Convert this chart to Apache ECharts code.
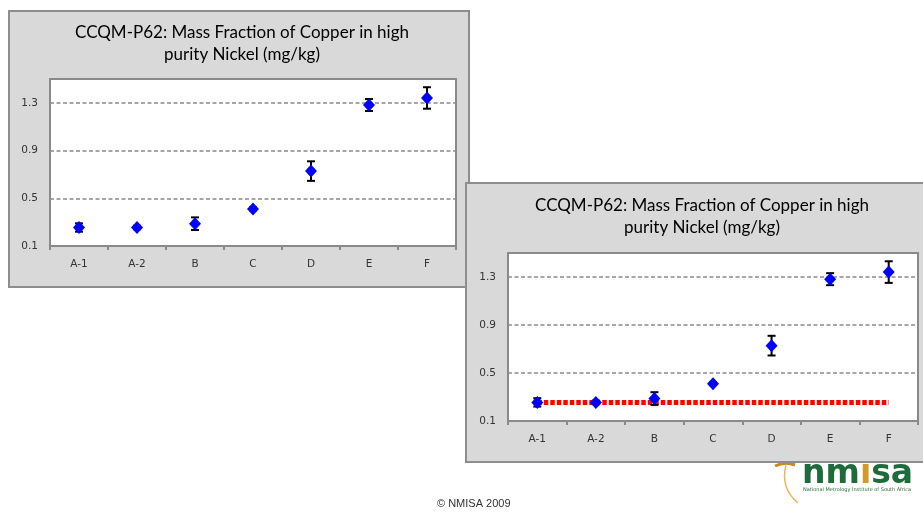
<!DOCTYPE html>
<html><head><meta charset="utf-8">
<script src="https://cdn.jsdelivr.net/npm/echarts/dist/echarts.min.js"></script>
<style>
html,body{margin:0;padding:0;width:923px;height:519px;overflow:hidden;background:#fff}
body{position:relative}
.abs{position:absolute}
.panel{position:absolute;box-sizing:border-box;background:#d9d9d9;border:2px solid #8e8e8e}
#bg{left:0;top:0;width:923px;height:519px}
#p1{left:8px;top:10px;width:462px;height:278px}
#p2{left:465px;top:182px;width:462px;height:281px}
.inner{width:100%;height:100%}
</style>
</head><body>
<div id="bg" class="abs"></div>
<div id="p1" class="panel"><div id="c1" class="inner"></div></div>
<div id="p2" class="panel"><div id="c2" class="inner"></div></div>
<script>
// ---- data ----
const categories = ['A-1', 'A-2', 'B', 'C', 'D', 'E', 'F'];
const massFraction = [0.255, 0.255, 0.287, 0.411, 0.728, 1.282, 1.341];
const uncertainty = [0.035, 0.015, 0.053, 0.012, 0.082, 0.05, 0.09];
const referenceLine = [0.255, 0.255, 0.255, 0.255, 0.255, 0.255, 0.255];
const yTickLabels = [0.1, 0.5, 0.9, 1.3];
const yMin = 0.1, yMax = 1.5, yStep = 0.4;
const chartTitle = 'CCQM-P62: Mass Fraction of Copper in high\npurity Nickel (mg/kg)';
const copyrightText = '\u00A9 NMISA 2009';

function buildOption(cfg) {
  const errData = categories.map((c, i) => [i, massFraction[i] - uncertainty[i], massFraction[i] + uncertainty[i]]);
  const series = [];
  if (cfg.withReference) {
    series.push({
      type: 'line', data: referenceLine, symbol: 'none', z: 1, silent: true,
      lineStyle: { color: '#ff0000', width: 5, type: [4.5, 2], cap: 'butt' }
    });
  }
  series.push({
    type: 'custom', data: errData, z: 3,
    renderItem: function (params, api) {
      const x = api.coord([api.value(0), api.value(1)])[0];
      const lo = api.coord([api.value(0), api.value(1)])[1];
      const hi = api.coord([api.value(0), api.value(2)])[1];
      const st = { stroke: '#000', lineWidth: 2 };
      return { type: 'group', children: [
        { type: 'line', shape: { x1: x, y1: lo, x2: x, y2: hi }, style: st },
        { type: 'line', shape: { x1: x - 4, y1: lo, x2: x + 4, y2: lo }, style: st },
        { type: 'line', shape: { x1: x - 4, y1: hi, x2: x + 4, y2: hi }, style: st }
      ]};
    }
  });
  series.push({
    type: 'scatter', data: massFraction, symbol: 'diamond', symbolSize: [12, 13], z: 4,
    itemStyle: { color: '#0000ff', opacity: 1 }
  });
  return {
    animation: false,
    title: {
      text: chartTitle, left: cfg.titleX, top: cfg.titleTop, textAlign: 'center',
      textStyle: { fontFamily: 'Lato', fontSize: 17, fontWeight: 'normal', color: '#000', lineHeight: 22 }
    },
    grid: {
      left: cfg.left, top: cfg.top, width: cfg.width, height: cfg.height,
      show: true, backgroundColor: '#fff', borderColor: '#8a8a8a', borderWidth: 2
    },
    xAxis: {
      type: 'category', data: categories, boundaryGap: true,
      axisLine: { lineStyle: { color: '#8a8a8a', width: 2 } },
      axisTick: { show: true, length: 4, lineStyle: { color: '#8a8a8a', width: 2 } },
      axisLabel: { fontFamily: 'DejaVu Sans', fontSize: 10.5, color: '#333', margin: 13 }
    },
    yAxis: {
      type: 'value', min: yMin, max: yMax, interval: yStep,
      axisLine: { show: true, lineStyle: { color: '#8a8a8a', width: 2 } },
      axisTick: { show: false },
      axisLabel: {
        fontFamily: 'DejaVu Sans', fontSize: 10.5, color: '#333', margin: 12,
        formatter: function (v) {
          const hit = yTickLabels.find(t => Math.abs(t - v) < 1e-6);
          return hit === undefined ? '' : hit.toFixed(1);
        }
      },
      splitLine: { show: true, lineStyle: { color: '#8a8a8a', width: 1.5, type: [4, 2.5] } }
    },
    series: series
  };
}

const c1 = echarts.init(document.getElementById('c1'), null, { renderer: 'canvas' });
c1.setOption(buildOption({ left: 40, top: 67, width: 406, height: 167, titleX: 227, titleTop: 5, withReference: false }));
const c2 = echarts.init(document.getElementById('c2'), null, { renderer: 'canvas' });
c2.setOption(buildOption({ left: 41, top: 69, width: 410, height: 168, titleX: 230, titleTop: 6, withReference: true }));

const bg = echarts.init(document.getElementById('bg'), null, { renderer: 'canvas' });
bg.setOption({
  animation: false,
  graphic: [
    { type: 'text', x: 437, y: 498, style: { text: copyrightText, fontFamily: 'Liberation Sans', fontSize: 11, fill: '#333' } },
    { type: 'bezierCurve', shape: { x1: 775, y1: 466, x2: 795, y2: 465, cpx1: 785, cpy1: 461 }, style: { fill: null, stroke: '#c98a22', lineWidth: 3 } },
    { type: 'bezierCurve', shape: { x1: 786, y1: 465, x2: 798, y2: 503, cpx1: 780, cpy1: 488 }, style: { fill: null, stroke: '#e8b55a', lineWidth: 1.5 } },
    { type: 'text', x: 802, y: 458, style: {
        text: '{g|nm}{o|i}{g|sa}',
        rich: {
          g: { fontFamily: 'DejaVu Sans', fontWeight: 'bold', fontSize: 33, fill: '#1e6b3c' },
          o: { fontFamily: 'DejaVu Sans', fontWeight: 'bold', fontSize: 33, fill: '#d39a2a' }
        } } },
    { type: 'text', x: 803, y: 487, style: { text: 'National Metrology Institute of South Africa', fontFamily: 'DejaVu Sans', fontSize: 5, fill: '#2a6a3a' } }
  ]
});
</script>
</body></html>
